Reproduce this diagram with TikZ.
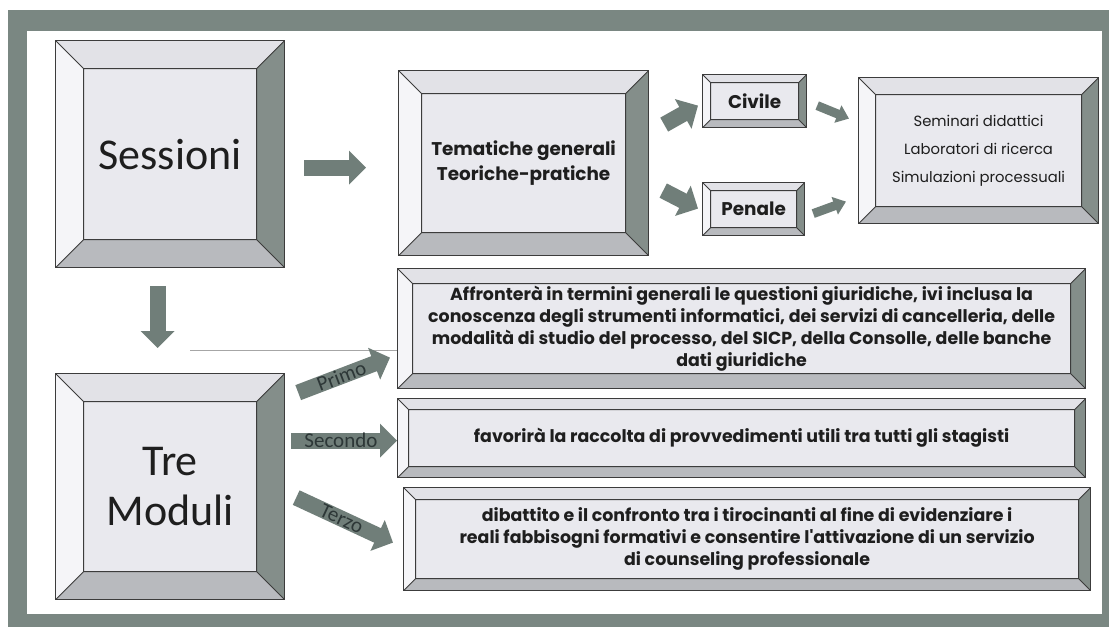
\documentclass[tikz,border=0pt]{standalone}
\usepackage{fontspec}
\newfontfamily\calib{Carlito}
\newfontfamily\geo{Poppins}
\usetikzlibrary{arrows.meta}

\definecolor{framecol}{RGB}{122,135,130}
\definecolor{arrcol}{RGB}{112,126,121}
\definecolor{facecol}{RGB}{233,233,238}
\definecolor{topcol}{RGB}{226,226,231}
\definecolor{leftcol}{RGB}{245,245,248}
\definecolor{rightcol}{RGB}{132,142,138}
\definecolor{botcol}{RGB}{184,186,190}
\definecolor{edgecol}{RGB}{60,60,60}
\definecolor{labcol}{RGB}{45,55,55}
\definecolor{txtcol}{RGB}{30,30,30}

\tikzset{
  bevel/.style={draw=edgecol, line width=0.6pt, fill=facecol, inner sep=0pt,
    anchor=north west, align=center, text=txtcol,
    path picture={
      \path (path picture bounding box.north west) coordinate (bnw)
            (path picture bounding box.north east) coordinate (bne)
            (path picture bounding box.south east) coordinate (bse)
            (path picture bounding box.south west) coordinate (bsw);
      \path (bnw) ++(#1pt,-#1pt) coordinate (inw)
            (bne) ++(-#1pt,-#1pt) coordinate (ine)
            (bse) ++(-#1pt,#1pt) coordinate (ise)
            (bsw) ++(#1pt,#1pt) coordinate (isw);
      \fill[topcol] (bnw) -- (bne) -- (ine) -- (inw) -- cycle;
      \fill[rightcol] (bne) -- (bse) -- (ise) -- (ine) -- cycle;
      \fill[botcol] (bsw) -- (bse) -- (ise) -- (isw) -- cycle;
      \fill[leftcol] (bnw) -- (bsw) -- (isw) -- (inw) -- cycle;
      \draw[edgecol, line width=0.4pt] (inw) rectangle (ise)
        (bnw) -- (inw) (bne) -- (ine) (bse) -- (ise) (bsw) -- (isw);
    }},
  bigtxt/.style={font=\calib\fontsize{22}{25}\selectfont},
  headtxt/.style={font=\geo\bfseries\fontsize{9.2}{12.5}\selectfont},
  smalltxt/.style={font=\geo\fontsize{7.4}{14}\selectfont},
  bodytxt/.style={font=\geo\bfseries\fontsize{8.7}{11}\selectfont},
  blockarr/.style={draw=arrcol, line width=8pt, -{Triangle[width=16.5pt,length=8.5pt]}},
  thinarr/.style={draw=arrcol, line width=4.5pt, -{Triangle[width=9pt,length=6pt]}},
  arrlab/.style={pos=0.47, sloped, inner sep=0pt, text=labcol,
    font=\calib\fontsize{10.5}{11}\selectfont},
}

\begin{document}
\begin{tikzpicture}[x=0.5pt,y=-0.5pt]
\useasboundingbox (0,0) rectangle (1109,627);
% frame
\fill[framecol] (8,10) rectangle (1109,627);
\fill[white] (27,31) rectangle (1102,614);

% left column
\node[bevel=14, minimum width=114.5pt, minimum height=113.5pt, bigtxt] (sess) at (55,40) {Sessioni};
\node[bevel=14, minimum width=114.5pt, minimum height=113pt, bigtxt] (tre) at (55,373) {Tre\\Moduli};

% top row
\node[bevel=11.5, minimum width=125pt, minimum height=92.5pt, headtxt] (tema) at (398,70) {Tematiche generali\\Teoriche-pratiche};
\node[bevel=4, minimum width=52pt, minimum height=26.5pt, headtxt] (civ) at (702,74) {Civile};
\node[bevel=4, minimum width=51pt, minimum height=26.5pt, headtxt] (pen) at (702,182) {Penale};
\node[bevel=8.5, minimum width=120pt, minimum height=73pt, smalltxt] (sem) at (858,77)
  {Seminari didattici\\Laboratori di ricerca\\Simulazioni processuali};

% modules
\node[bevel=7.5, minimum width=344pt, minimum height=60pt, bodytxt] (mod1) at (397,268)
  {Affronterà in termini generali le questioni giuridiche, ivi inclusa la\\
   conoscenza degli strumenti informatici, dei servizi di cancelleria, delle\\
   modalità di studio del processo, del SICP, della Consolle, delle banche\\
   dati giuridiche};
\node[bevel=5.5, minimum width=344pt, minimum height=39.5pt, bodytxt] (mod2) at (397,398)
  {favorirà la raccolta di provvedimenti utili tra tutti gli stagisti};
\node[bevel=6, minimum width=343.5pt, minimum height=51.5pt, bodytxt] (mod3) at (403,487)
  {dibattito e il confronto tra i tirocinanti al fine di evidenziare i\\
   reali fabbisogni formativi e consentire l'attivazione di un servizio\\
   di counseling professionale};

% stray guide line
\coordinate (guide) at (190,350);
\draw[black!35, line width=0.4pt] (guide) -- (guide -| mod1.west);

% arrows
\draw[blockarr] ([shift={(19,13.5)}]sess.east) -- ([shift={(-32,4.5)}]tema.west);
\draw[blockarr] ([shift={(15,-38.5)}]tema.east) -- ([shift={(-4,4.5)}]civ.west);
\draw[blockarr] ([shift={(14,27.5)}]tema.east) -- ([shift={(-4,-0.5)}]pen.west);
\draw[thinarr] ([shift={(10,4.5)}]civ.east) -- ([shift={(-9,-32)}]sem.west);
\draw[thinarr] ([shift={(8,4.5)}]pen.east) -- ([shift={(-12,51)}]sem.west);
\draw[blockarr] ([shift={(-12.5,18)}]sess.south) -- ([shift={(-12.5,-25)}]tre.north);
\draw[blockarr] ([shift={(13,-94)}]tre.east) -- ([shift={(-7,29)}]mod1.west)
  node[arrlab] {Primo};
\draw[blockarr] ([shift={(6,-46)}]tre.east) -- ([shift={(0,2.5)}]mod2.west)
  node[arrlab] {Secondo};
\draw[blockarr] ([shift={(11,11)}]tre.east) -- ([shift={(-10,3.5)}]mod3.west)
  node[arrlab] {Terzo};
\end{tikzpicture}
\end{document}
